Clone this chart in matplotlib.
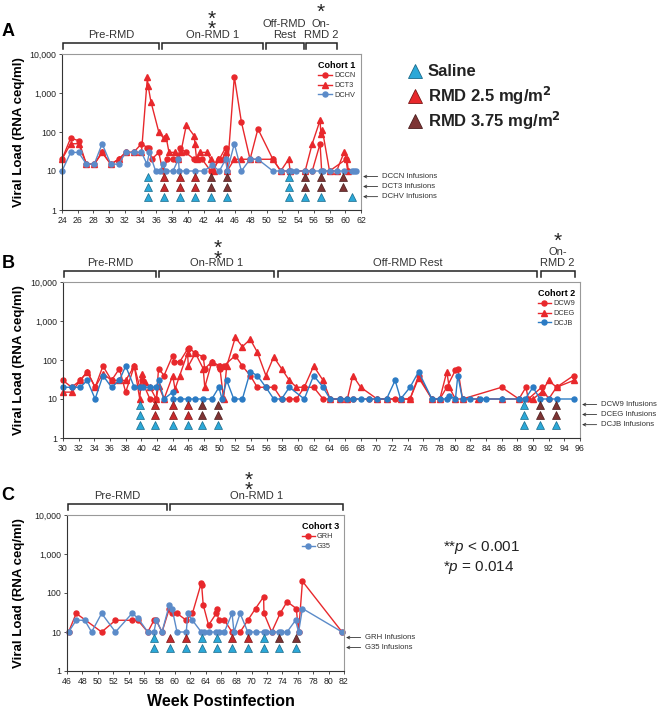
import matplotlib.pyplot as plt
import numpy as np
import matplotlib.transforms as mtransforms
from matplotlib.lines import Line2D

plt.rcParams['font.family'] = ['Liberation Sans', 'DejaVu Sans']
plt.rcParams['mathtext.fontset'] = 'custom'
plt.rcParams['mathtext.it'] = 'Liberation Sans:italic'
plt.rcParams['mathtext.rm'] = 'Liberation Sans'

# ---------------- data ----------------
# Cohort 1
dccn_w = [24, 25.1, 26.1, 27.1, 28.1, 29.1, 30.2, 31.2, 32.1, 33.1, 34.1, 34.8, 35.1, 35.4, 36.3, 36.8,
          37.4, 38.1, 38.7, 39.0, 39.7, 40.8, 41.1, 41.8, 42.9, 43.1, 44.0, 44.8, 45.0, 45.9, 46.8,
          47.9, 48.9, 50.8, 51.8, 52.8, 54.9, 55.8, 56.8, 57.0, 58.0, 60.1, 60.3]
dccn_v = [20, 70, 60, 15, 15, 30, 15, 20, 30, 30, 50, 40, 40, 20, 30, 10,
          20, 20, 20, 40, 30, 20, 20, 20, 10, 10, 20, 40, 10, 2600, 180,
          20, 120, 20, 10, 10, 10, 10, 50, 10, 10, 20, 10]
dct3_w = [24, 25.1, 26.1, 27.1, 28.1, 29.1, 30.2, 31.2, 32.1, 33.1, 34.1, 34.85, 34.95, 35.3, 36.3,
          36.9, 37.2, 37.6, 38.4, 38.8, 39.1, 39.8, 40.8, 40.9, 41.1, 41.6, 42.4, 42.9, 43.3, 43.8,
          44.4, 44.8, 45.0, 45.9, 46.8, 47.9, 48.9, 50.8, 51.8, 52.8, 53.0, 54.9, 55.8, 56.8, 56.9,
          57.1, 58.0, 58.9, 59.85, 60.2, 60.4]
dct3_v = [20, 50, 50, 15, 15, 30, 15, 20, 30, 30, 30, 2500, 1500, 600, 100,
          70, 80, 30, 30, 20, 30, 150, 80, 50, 20, 30, 30, 20, 10, 20,
          20, 30, 10, 20, 20, 20, 20, 20, 10, 20, 10, 10, 50, 200, 90,
          110, 10, 10, 30, 20, 10]
dchv_w = [24, 25.1, 26.1, 27.1, 28.1, 29.1, 30.2, 31.2, 32.1, 33.1, 34.1, 34.8, 35.1, 35.9, 36.5,
          36.8, 37.2, 38.1, 38.8, 38.9, 39.8, 40.9, 42.0, 43.1, 44.0, 44.8, 45.0, 45.9, 46.8, 47.9,
          48.9, 50.8, 51.8, 52.8, 53.1, 53.8, 54.9, 55.8, 56.9, 57.2, 58.0, 58.9, 59.9, 60.8, 61.1, 61.4]
dchv_v = [10, 30, 30, 15, 15, 50, 15, 15, 30, 30, 30, 15, 30, 10, 10,
          15, 10, 10, 20, 10, 10, 10, 10, 14, 10, 20, 10, 50, 10, 20,
          20, 10, 10, 10, 10, 10, 10, 10, 10, 10, 10, 10, 10, 10, 10, 10]

# Cohort 2
dcw9_w = [30.0, 31.1, 32.2, 33.1, 34.1, 35.1, 36.2, 37.2, 38.0, 39.1, 39.8, 40.05, 41.1, 41.9, 42.2,
          42.9, 44.0, 44.2, 44.9, 45.9, 46.1, 46.9, 47.9, 48.1, 49.0, 49.9, 50.0, 50.5, 52.0, 52.9,
          53.9, 54.8, 55.9, 56.9, 57.9, 58.9, 59.8, 60.8, 62.0, 63.2, 64.1, 65.4, 66.3, 67.0, 69.0,
          70.1, 71.3, 72.4, 73.1, 74.3, 75.4, 77.1, 78.1, 79.0, 80.1, 80.4, 81.0, 86.0, 88.2, 89.1,
          89.4, 91.1, 92.0, 93.0, 95.2]
dcw9_v = [30, 20, 30, 50, 20, 70, 30, 60, 15, 70, 20, 30, 10, 10, 60,
          40, 130, 90, 90, 190, 200, 150, 120, 60, 90, 70, 60, 70, 130, 70,
          40, 20, 20, 20, 10, 10, 10, 20, 20, 10, 10, 10, 10, 10, 10,
          10, 10, 10, 10, 10, 40, 10, 10, 20, 55, 60, 10, 20, 10, 20,
          10, 20, 10, 20, 40]
dceg_w = [30.0, 31.1, 32.2, 33.1, 34.1, 35.1, 36.2, 37.2, 38.0, 39.1, 39.8, 40.05, 40.5, 41.1, 41.9,
          42.2, 42.9, 44.0, 44.3, 44.9, 45.9, 46.0, 46.9, 47.9, 48.1, 49.0, 50.0, 50.5, 50.9, 52.0,
          52.9, 53.9, 54.8, 55.9, 56.9, 57.9, 58.9, 59.8, 60.8, 62.0, 63.2, 64.1, 65.4, 66.3, 67.0,
          68.0, 70.1, 71.3, 73.1, 74.3, 75.4, 77.1, 78.1, 79.0, 79.3, 80.1, 81.0, 83.0, 86.0, 88.2,
          90.0, 91.1, 92.0, 93.0, 95.2]
dceg_v = [15, 15, 30, 50, 20, 45, 30, 30, 30, 70, 10, 45, 27, 20, 10,
          22, 10, 40, 18, 40, 150, 70, 150, 60, 20, 90, 70, 10, 70, 380,
          220, 340, 160, 40, 120, 60, 30, 20, 20, 70, 30, 10, 10, 10, 40,
          20, 10, 10, 10, 10, 35, 10, 10, 50, 20, 10, 10, 10, 10, 10,
          10, 15, 30, 20, 30]
dcjb_w = [30.0, 31.1, 32.2, 33.1, 34.1, 35.1, 36.2, 37.2, 38.0, 39.1, 39.8, 40.2, 41.1, 41.9, 42.2,
          42.9, 44.0, 44.1, 44.9, 45.9, 46.9, 47.9, 49.0, 49.9, 50.3, 50.9, 51.8, 52.9, 53.9, 54.8,
          55.9, 56.9, 57.9, 58.9, 60.8, 62.0, 63.2, 64.1, 65.4, 66.3, 67.0, 68.0, 69.0, 70.1, 71.3,
          72.4, 73.1, 74.3, 75.4, 77.1, 78.1, 79.0, 79.3, 80.1, 80.4, 81.0, 82.0, 83.2, 84.0, 86.0,
          88.2, 89.0, 90.0, 90.9, 92.0, 93.0, 95.2]
dcjb_v = [20, 20, 20, 30, 10, 40, 20, 30, 70, 20, 20, 20, 20, 20, 30,
          10, 15, 10, 10, 10, 10, 10, 10, 20, 10, 30, 10, 10, 50, 40,
          20, 10, 10, 20, 10, 40, 20, 10, 10, 10, 10, 10, 10, 10, 10,
          30, 10, 20, 50, 10, 10, 10, 12, 10, 40, 10, 10, 10, 10, 10,
          10, 10, 20, 10, 10, 10, 10]

# Cohort 3
grh_w = [46.2, 47.2, 50.5, 52.3, 54.45, 55.2, 56.5, 57.3, 57.6, 58.35, 59.3, 59.65, 60.3, 61.5,
         62.3, 63.45, 63.5, 63.7, 64.4, 65.4, 65.45, 65.7, 66.45, 67.45, 68.5, 69.5, 70.5, 71.55,
         71.6, 72.6, 73.7, 74.6, 75.8, 76.1, 76.6, 81.75]
grh_v = [10, 30, 10, 20, 20, 20, 10, 20, 20, 10, 40, 30, 30, 20,
         30, 180, 160, 50, 15, 30, 40, 20, 20, 10, 10, 20, 40, 80,
         30, 10, 30, 60, 40, 10, 200, 10]
g35_w = [46.2, 47.2, 48.3, 49.2, 50.5, 52.3, 54.45, 55.2, 56.5, 57.3, 57.6, 58.35, 59.3, 59.65,
         60.3, 61.5, 61.7, 62.3, 63.45, 63.8, 64.4, 65.4, 65.7, 66.45, 67.45, 67.7, 68.5, 69.5,
         69.7, 70.5, 71.55, 71.8, 72.6, 73.6, 73.8, 74.6, 75.7, 76.1, 76.6, 81.75]
g35_v = [10, 20, 20, 10, 30, 10, 30, 23, 10, 10, 20, 10, 50, 40,
         10, 10, 30, 20, 10, 10, 10, 10, 10, 10, 30, 10, 30, 10,
         10, 10, 10, 10, 10, 10, 10, 10, 20, 10, 40, 10]

# infusions: S = saline, L = RMD 2.5, H = RMD 3.75
a_inf_w = [34.9, 36.9, 38.95, 40.9, 42.9, 44.95, 52.9, 54.85, 56.9, 59.75]
a_inf_w3 = [34.9, 36.9, 38.95, 40.9, 42.9, 44.95, 52.9, 54.85, 56.9, 60.8]
a_inf_d = ['S', 'L', 'L', 'L', 'H', 'H', 'S', 'H', 'H', 'H']
b_inf_w = [39.8, 41.8, 44.0, 45.9, 47.8, 49.8, 88.9, 90.9, 92.95]
b_inf_d = ['S', 'L', 'L', 'L', 'H', 'H', 'S', 'H', 'H']
c_inf_w = [57.3, 59.4, 61.5, 63.5, 65.5, 67.5, 69.5, 71.6, 73.6, 75.7]
c_inf_d = ['S', 'L', 'L', 'S', 'S', 'L', 'L', 'S', 'H', 'H']

RED = '#e8282c'
BLUE_L = '#5b8bc9'
BLUE_D = '#2b7bc4'
TRI = {'S': ('#2ba8d8', '#1a6a8a'), 'L': ('#c62a2c', '#7a1616'), 'H': ('#7d3434', '#4a1c1c')}
ROWS = [7.2, 4.0, 2.2]

fig = plt.figure(figsize=(6.6, 7.12), dpi=100)


def make_ax(l, r, t, b):
    return fig.add_axes([l / 660, 1 - b / 712, (r - l) / 660, (b - t) / 712])


def setup(ax, x0, x1, left_px, width_px):
    ax.set_yscale('log')
    ax.set_ylim(1, 10000)
    ax.set_xlim(x0, x1)
    ax.set_yticks([1, 10, 100, 1000, 10000])
    ax.set_yticklabels(['1', '10', '100', '1,000', '10,000'])
    ax.minorticks_off()
    ax.set_xticks(np.arange(x0, x1 + 1, 2))
    ax.tick_params(labelsize=6.3, length=2.5, width=0.6, color='#333', pad=1.5, labelcolor='#222')
    for s in ['left', 'bottom']:
        ax.spines[s].set_color('#333')
    for s in ['top', 'right']:
        ax.spines[s].set_color('#999')
    for s in ax.spines.values():
        s.set_linewidth(0.8)
    ax.text((19 - left_px) / width_px, 0.5, 'Viral Load (RNA ceq/ml)', transform=ax.transAxes,
            rotation=90, ha='center', va='center', fontsize=9.5, fontweight='bold')


def brackets(ax, items, stars):
    tr = mtransforms.blended_transform_factory(ax.transData, ax.transAxes)
    for x0, x1, lab in items:
        ax.plot([x0, x0, x1, x1], [1.035, 1.07, 1.07, 1.035], transform=tr, color='#222',
                lw=1.1, clip_on=False, solid_joinstyle='miter')
        ax.text((x0 + x1) / 2, 1.088, lab, transform=tr, ha='center', va='bottom',
                fontsize=8, color='#333', linespacing=1.15)
    for x, ys in stars:
        for y in ys:
            ax.text(x, y, '*', transform=tr, ha='center', va='center', fontsize=15, color='#222')


def infusions(ax, rows, labels):
    for (ws, ds), y in zip(rows, ROWS):
        for w, d in zip(ws, ds):
            fc, ec = TRI[d]
            ax.plot(w, y, marker='^', ms=5.5, mfc=fc, mec=ec, mew=0.5, ls='none', clip_on=False)
    tr = ax.get_yaxis_transform()
    for lab, y in zip(labels, ROWS):
        ax.annotate(lab, xy=(1.0, y), xycoords=tr, xytext=(15, 0), textcoords='offset points',
                    ha='left', va='center', fontsize=5.6, color='#333',
                    arrowprops=dict(arrowstyle='->', lw=0.6, color='#333', shrinkA=1, shrinkB=1.5,
                                    mutation_scale=5))


def series(ax, w, v, color, marker, label):
    ax.plot(w, v, color=color, marker=marker, ms=3.6 if marker == 'o' else 4, lw=1.0,
            label=label, clip_on=False)


def cohort_legend(ax, title):
    leg = ax.legend(title=title, loc='upper right', bbox_to_anchor=(1.0, 0.99), frameon=False,
                    fontsize=5.3, handlelength=1.8, handletextpad=0.3, labelspacing=0.35,
                    borderaxespad=0.3, alignment='left',
                    title_fontproperties={'weight': 'bold', 'size': 6.5})
    for t in leg.get_texts():
        t.set_color('#333')


# ---------------- Panel A ----------------
axA = make_ax(62, 361, 54, 210)
setup(axA, 24, 62, 62, 299)
series(axA, dccn_w, dccn_v, RED, 'o', 'DCCN')
series(axA, dct3_w, dct3_v, RED, '^', 'DCT3')
series(axA, dchv_w, dchv_v, BLUE_L, 'o', 'DCHV')
cohort_legend(axA, 'Cohort 1')
infusions(axA, [(a_inf_w, a_inf_d), (a_inf_w, a_inf_d), (a_inf_w3, ['S'] * 10)],
          ['DCCN Infusions', 'DCT3 Infusions', 'DCHV Infusions'])
brackets(axA, [(24.1, 36.3, 'Pre-RMD'), (36.7, 49.6, 'On-RMD 1'),
               (49.9, 54.7, 'Off-RMD\nRest'), (55.0, 58.9, 'On-\nRMD 2')],
         [(43.0, [1.158, 1.225]), (56.9, [1.265])])
fig.text(8 / 660, 1 - 32 / 712, 'A', fontsize=13, fontweight='bold', ha='center', va='center')

# ---------------- Panel B ----------------
axB = make_ax(63, 580, 282, 438)
setup(axB, 30, 96, 63, 517)
series(axB, dcw9_w, dcw9_v, RED, 'o', 'DCW9')
series(axB, dceg_w, dceg_v, RED, '^', 'DCEG')
series(axB, dcjb_w, dcjb_v, BLUE_D, 'o', 'DCJB')
cohort_legend(axB, 'Cohort 2')
infusions(axB, [(b_inf_w, b_inf_d), (b_inf_w, b_inf_d), (b_inf_w, ['S'] * 9)],
          ['DCW9 Infusions', 'DCEG Infusions', 'DCJB Infusions'])
brackets(axB, [(30.1, 41.9, 'Pre-RMD'), (42.3, 56.9, 'On-RMD 1'),
               (57.4, 90.5, 'Off-RMD Rest'), (91.0, 95.3, 'On-\nRMD 2')],
         [(49.8, [1.145, 1.213]), (93.1, [1.262])])
fig.text(8 / 660, 1 - 263 / 712, 'B', fontsize=13, fontweight='bold', ha='center', va='center')

# ---------------- Panel C ----------------
axC = make_ax(67, 344, 515, 671)
setup(axC, 46, 82, 67, 277)
series(axC, grh_w, grh_v, RED, 'o', 'GRH')
series(axC, g35_w, g35_v, BLUE_L, 'o', 'G35')
cohort_legend(axC, 'Cohort 3')
infusions(axC, [(c_inf_w, c_inf_d), (c_inf_w, ['S'] * 10)], ['GRH Infusions', 'G35 Infusions'])
brackets(axC, [(46.1, 59.0, 'Pre-RMD'), (59.4, 81.9, 'On-RMD 1')],
         [(69.6, [1.155, 1.222])])
fig.text(8 / 660, 1 - 495 / 712, 'C', fontsize=13, fontweight='bold', ha='center', va='center')
fig.text(221 / 660, 1 - 702 / 712, 'Week Postinfection', fontsize=11.5, fontweight='bold',
         ha='center', va='center')

# ---------------- dose legend ----------------
dose_items = [('S', 'Saline'), ('L', 'RMD 2.5 mg/m$^{\\mathbf{2}}$'), ('H', 'RMD 3.75 mg/m$^{\\mathbf{2}}$')]
for i, (d, lab) in enumerate(dose_items):
    y = 1 - (71 + 25 * i) / 712
    fc, ec = TRI[d]
    if d == 'L':
        fc = RED
    fig.add_artist(Line2D([415 / 660], [y], transform=fig.transFigure, marker='^', ms=10,
                          mfc=fc, mec=ec, mew=0.6, ls='none'))
    fig.text(428 / 660, y, lab, fontsize=12, fontweight='bold', va='center', ha='left', color='#222')

fig.text(443 / 660, 1 - 548 / 712, '**$\\it{p}$ < 0.001', fontsize=11, va='center', color='#222')
fig.text(443 / 660, 1 - 568 / 712, '*$\\it{p}$ = 0.014', fontsize=11, va='center', color='#222')

fig.savefig('out.png', dpi=100)
